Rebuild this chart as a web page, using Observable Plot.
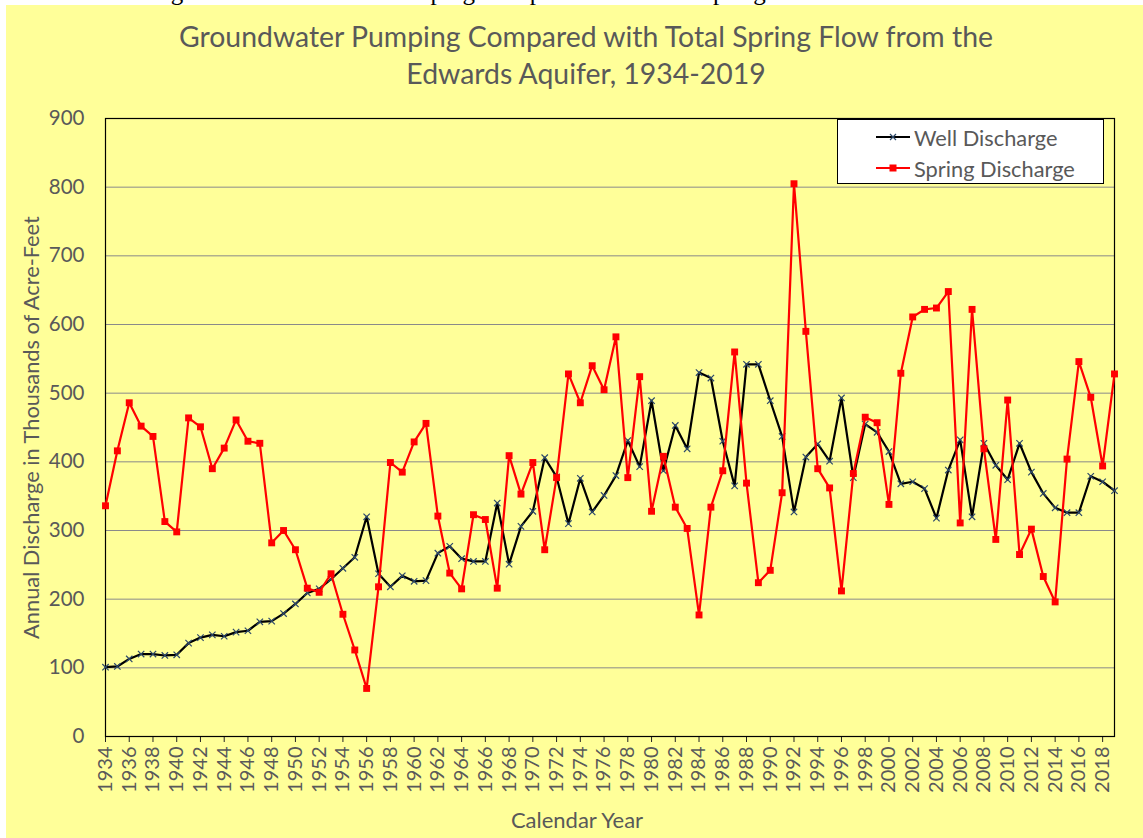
<!DOCTYPE html>
<html>
<head>
<meta charset="utf-8">
<script src="https://cdn.jsdelivr.net/npm/d3@7"></script>
<script src="https://cdn.jsdelivr.net/npm/@observablehq/plot@0.6"></script>
<style>
  body { margin: 0; background: #fff; width: 1143px; height: 838px; overflow: hidden; position: relative; }
  #cut { position: absolute; left: 0; top: 0; width: 1143px; height: 5px; overflow: hidden; }
  #cut div { position: absolute; left: 150px; top: -22px; font: 25px "Liberation Serif", serif; color: #000; white-space: nowrap; }
  #panel { position: absolute; left: 6px; top: 5px; width: 1137px; height: 833px; background: #FFFF99; }
  #title { position: absolute; left: 0; top: 13px; width: 1160px; text-align: center; font-family: Lato, sans-serif; font-size: 28.4px; line-height: 37px; color: #595959; }
  #xlabel { position: absolute; left: 0; top: 801px; width: 1142px; text-align: center; font-family: Lato, sans-serif; font-size: 22px; color: #595959; }
  #chart { position: absolute; left: 0; top: 95px; }
  #legend { position: absolute; left: 831px; top: 114px; width: 265px; height: 63px; background: #fff; border: 1px solid #000; font-family: Lato, sans-serif; font-size: 21.8px; color: #595959; }
  .row { position: absolute; left: 0; height: 28px; display: flex; align-items: center; }
  .row svg { margin-left: 38px; margin-right: 4px; }
</style>
</head>
<body>
<div id="cut"><div>Figure 3. Groundwater Pumping Compared with Total Spring Flow</div></div>
<div id="panel">
  <div id="title">Groundwater Pumping Compared with Total Spring Flow from the<br>Edwards Aquifer, 1934-2019</div>
  <div id="chart"></div>
  <div id="xlabel">Calendar Year</div>
  <div id="legend"></div>
</div>
<script>
const years = [1934,1935,1936,1937,1938,1939,1940,1941,1942,1943,1944,1945,1946,1947,1948,1949,1950,1951,1952,1953,1954,1955,1956,1957,1958,1959,1960,1961,1962,1963,1964,1965,1966,1967,1968,1969,1970,1971,1972,1973,1974,1975,1976,1977,1978,1979,1980,1981,1982,1983,1984,1985,1986,1987,1988,1989,1990,1991,1992,1993,1994,1995,1996,1997,1998,1999,2000,2001,2002,2003,2004,2005,2006,2007,2008,2009,2010,2011,2012,2013,2014,2015,2016,2017,2018,2019];

const wellDischarge = [101,102,113,120,120,118,119,136,144,148,146,152,154,167,168,179,193,209,215,229,245,261,320,237,218,234,226,227,267,277,259,255,255,340,251,306,328,406,378,310,376,327,351,380,431,393,489,387,453,419,530,522,430,365,542,542,489,437,327,407,426,401,493,377,455,443,415,368,371,361,318,388,432,320,427,395,374,427,385,354,333,326,326,379,371,358];

const springDischarge = [336,416,486,452,437,313,298,464,451,390,420,461,430,427,282,300,272,216,210,237,178,126,70,218,399,385,429,456,321,238,215,323,316,216,409,353,399,272,377,528,486,540,505,582,377,524,328,408,334,303,177,334,387,560,369,224,242,355,805,590,390,362,212,383,465,457,338,529,611,622,624,648,311,622,419,287,490,265,302,233,196,404,546,494,394,528];

const xTickYears = [1934,1936,1938,1940,1942,1944,1946,1948,1950,1952,1954,1956,1958,1960,1962,1964,1966,1968,1970,1972,1974,1976,1978,1980,1982,1984,1986,1988,1990,1992,1994,1996,1998,2000,2002,2004,2006,2008,2010,2012,2014,2016,2018];
const yTicks = [0,100,200,300,400,500,600,700,800,900];

const seriesNames = ["Well Discharge", "Spring Discharge"];

const well = years.map((y, i) => ({year: y, value: wellDischarge[i]}));
const spring = years.map((y, i) => ({year: y, value: springDischarge[i]}));

const chart = Plot.plot({
  width: 1137,
  height: 700,
  marginLeft: 99,
  marginRight: 29,
  marginTop: 18,
  marginBottom: 64,
  style: { background: "transparent", fontFamily: "Lato, sans-serif", fontSize: "20px", color: "#595959", overflow: "visible" },
  x: { domain: [1934, 2019] },
  y: { domain: [0, 900] },
  marks: [
    Plot.gridY(yTicks, { stroke: "#8a8a8a", strokeOpacity: 1, strokeWidth: 1 }),
    Plot.axisX(xTickYears, { tickSize: 6, tickFormat: () => "", color: "#222", label: null }),
    Plot.axisX(xTickYears, { tickSize: 0, tickPadding: 10, tickRotate: -90, tickFormat: d => String(d), fontSize: 20, color: "#595959", label: null }),
    Plot.axisY(yTicks, { tickSize: 0, tickPadding: 21, fontSize: 20.5, color: "#595959", label: null }),
    Plot.axisY({ ticks: [], tickSize: 0, fontSize: 21.8, color: "#595959", label: "Annual Discharge in Thousands of Acre-Feet", labelAnchor: "center", labelOffset: 82, labelArrow: "none" }),
    Plot.frame({ stroke: "#000", strokeWidth: 1.2 }),
    Plot.line(well, { x: "year", y: "value", stroke: "#000", strokeWidth: 2.2 }),
    Plot.dot(well, { x: "year", y: "value", symbol: "times", r: 3, stroke: "#2e4a6b", strokeWidth: 1.2 }),
    Plot.line(spring, { x: "year", y: "value", stroke: "#ff0000", strokeWidth: 2.2 }),
    Plot.dot(spring, { x: "year", y: "value", symbol: "square", r: 3.9, fill: "#ff0000", stroke: "none" })
  ]
});
document.getElementById("chart").appendChild(chart);

// legend
const legend = document.getElementById("legend");
const swatches = [
  `<svg width="34" height="12"><line x1="0" y1="6" x2="34" y2="6" stroke="#000" stroke-width="2"/><path d="M14,3 L20,9 M20,3 L14,9" stroke="#2e4a6b" stroke-width="1.2"/></svg>`,
  `<svg width="34" height="12"><line x1="0" y1="6" x2="34" y2="6" stroke="#ff0000" stroke-width="2"/><rect x="13.5" y="2.5" width="7" height="7" fill="#ff0000"/></svg>`
];
seriesNames.forEach((name, i) => {
  const row = document.createElement("div");
  row.className = "row";
  row.style.top = (i === 0 ? 3 : 34) + "px";
  row.innerHTML = swatches[i] + `<span>${name}</span>`;
  legend.appendChild(row);
});
</script>
</body>
</html>
